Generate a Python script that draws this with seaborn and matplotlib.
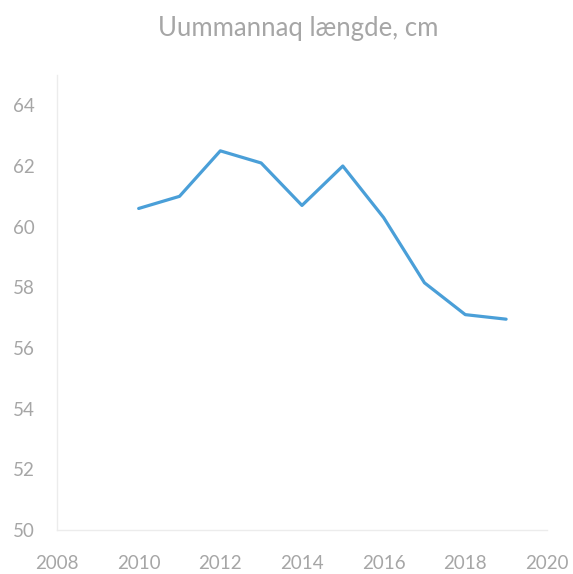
import matplotlib
matplotlib.use("Agg")
import matplotlib.pyplot as plt
import seaborn as sns
import pandas as pd

years = [2010, 2011, 2012, 2013, 2014, 2015, 2016, 2017, 2018, 2019]
length_cm = [60.6, 61.0, 62.5, 62.1, 60.7, 62.0, 60.3, 58.15, 57.1, 56.95]
x_ticks = [2008, 2010, 2012, 2014, 2016, 2018, 2020]
y_ticks = [50, 52, 54, 56, 58, 60, 62, 64]
title = "Uummannaq længde, cm"

sns.set_style("white")
plt.rcParams['font.family'] = ['Lato', 'DejaVu Sans']

df = pd.DataFrame({"year": years, "length": length_cm})

fig = plt.figure(figsize=(5.73, 5.74), dpi=100)
ax = fig.add_axes([0.0995, 0.0767, 0.855, 0.7926])
sns.lineplot(data=df, x="year", y="length", ax=ax, color="#4a9fd8", linewidth=2.3)

ax.set_xlim(2008, 2020)
ax.set_ylim(50, 65)
ax.set_xticks(x_ticks)
ax.set_yticks(y_ticks)
ax.set_xticklabels([str(t) for t in x_ticks])
ax.set_yticklabels([str(t) for t in y_ticks])
ax.set_xlabel("")
ax.set_ylabel("")
ax.tick_params(axis="both", length=0, labelsize=13.5, labelcolor="#a6a6a6")
ax.tick_params(axis="x", pad=18)
ax.tick_params(axis="y", pad=16)
for side in ["top", "right"]:
    ax.spines[side].set_visible(False)
for side in ["left", "bottom"]:
    ax.spines[side].set_color("#ececec")
    ax.spines[side].set_linewidth(1.0)
ax.grid(False)

fig.text(0.52, 0.95, title, ha="center", va="center", fontsize=18.5, color="#a6a6a6")

fig.savefig("out.png", dpi=100)
